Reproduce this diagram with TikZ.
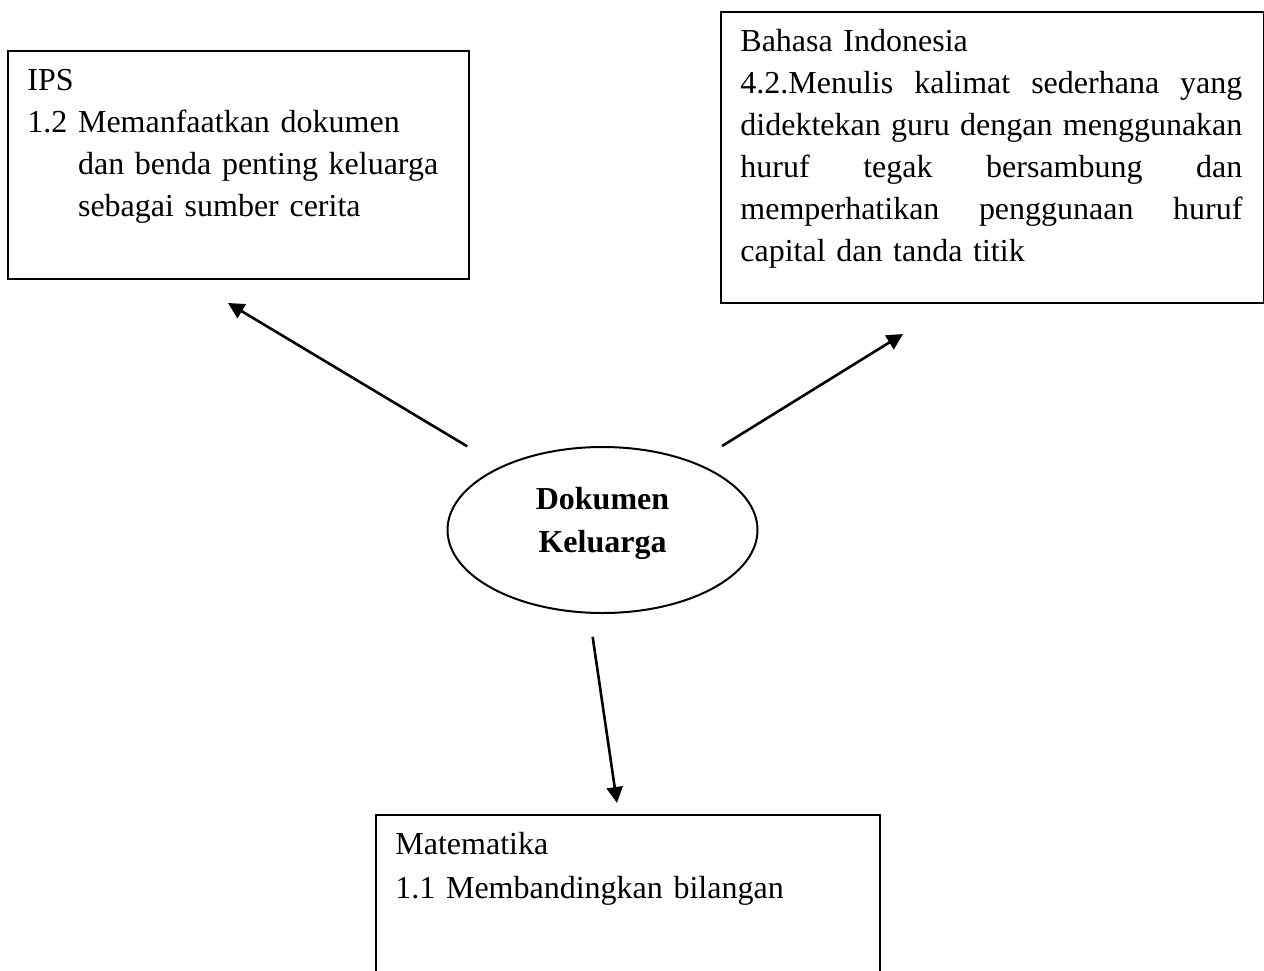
\documentclass[tikz,border=0pt]{standalone}
\usepackage{fontspec}
\setmainfont{Liberation Serif}
\usepackage{tikz}
\usetikzlibrary{arrows.meta, shapes.geometric, positioning}
\tikzstyle{boxNode} = [draw, rectangle, line width=0.95pt, inner sep=0pt, anchor=north west]
\tikzstyle{txtNode} = [inner sep=0pt, align=left, font=\fontsize{16}{21}\selectfont]
\tikzstyle{topicNode} = [draw, ellipse, line width=1pt, inner sep=0pt,
   minimum width=155pt, minimum height=83pt]
\tikzstyle{linkArrow} = [line width=1.3pt, -{Triangle[length=8pt,width=8pt]}]

\begin{document}
\begin{tikzpicture}[x=0.5pt, y=-0.5pt]
	\clip (0,0) rectangle (1264,970);

	% boxes
	\node[boxNode, minimum width=230.5pt, minimum height=114pt] (ips) at (7,50) {};
	\node[boxNode, minimum width=271.5pt, minimum height=145.5pt] (bindo) at (720,11) {};
	\node[boxNode, minimum width=252pt, minimum height=100pt] (mat) at (375,814) {};

	\node[txtNode, text width=222pt, below right=5.3pt and 10pt of ips.north west] (ipstxt)
		{\strut IPS\\
		1.2 \parbox[t]{192pt}{\raggedright Memanfaatkan dokumen\\ dan benda penting keluarga\\ sebagai sumber cerita}};
	\node[txtNode, text width=251pt, below right=5.3pt and 10pt of bindo.north west] (bindotxt)
		{\strut Bahasa Indonesia\\
		4.2.Menulis\hfill kalimat\hfill sederhana\hfill yang\\
		didektekan\hfill guru\hfill dengan\hfill menggunakan\\
		huruf\hfill tegak\hfill bersambung\hfill dan\\
		memperhatikan\hfill penggunaan\hfill huruf\\
		capital dan tanda titik};
	\node[txtNode, text width=230pt, below right=5.3pt and 10pt of mat.north west] (mattxt)
		{\strut Matematika\\[1pt] 1.1 Membandingkan bilangan};

	% centre topic
	\node[topicNode] (doc) at (602.5,530) {};
	\node[inner sep=0pt, align=center, font=\fontsize{16}{21.5}\selectfont\bfseries] (doctxt)
		at (602.5,523.3) {Dokumen\\Keluarga};

	% arrows
	\coordinate (ipsend) at (228,303);
	\coordinate (bindoend) at (903,334);
	\coordinate (matend) at (617,803);
	\draw[linkArrow, shorten <=19.5pt] (doc.148) -- (ipsend);
	\draw[linkArrow, shorten <=15.7pt] (doc.36) -- (bindoend);
	\draw[linkArrow, shorten <=11.7pt] (doc.-99) -- (matend);
\end{tikzpicture}
\end{document}
